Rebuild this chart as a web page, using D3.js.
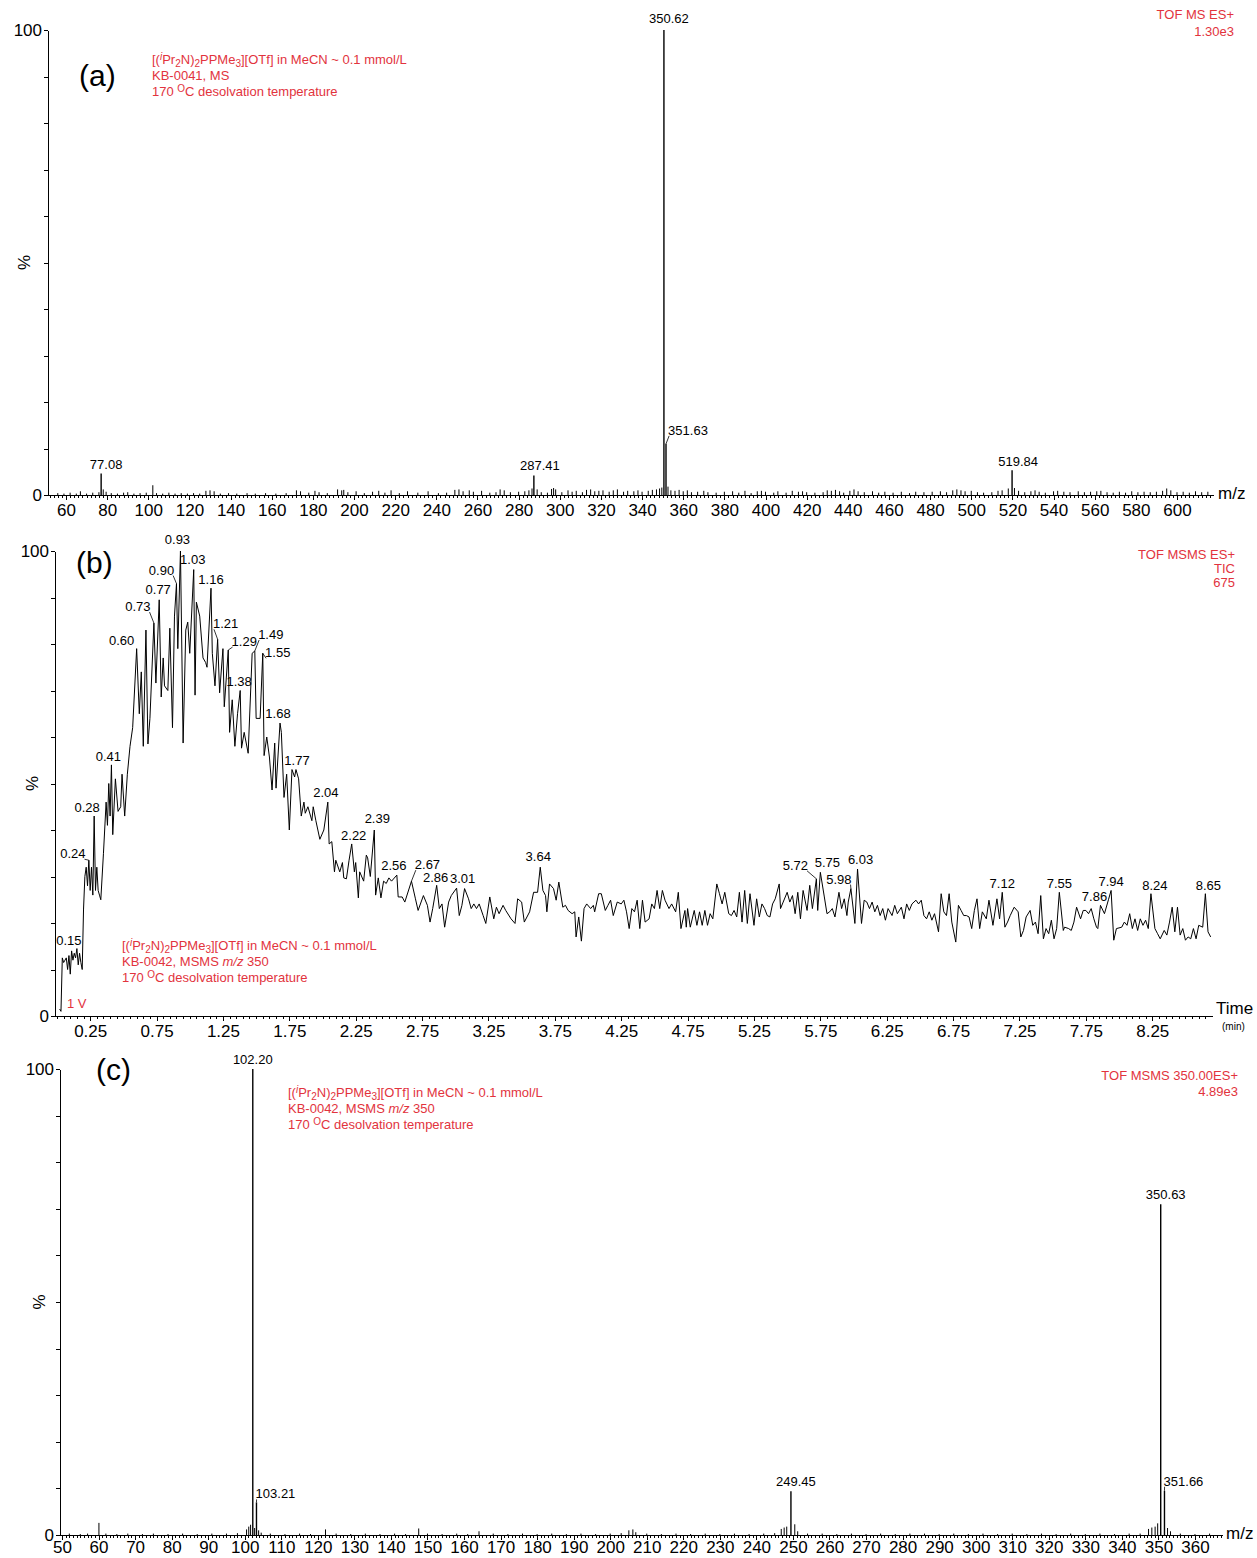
<!DOCTYPE html>
<html>
<head>
<meta charset="utf-8">
<script src="https://cdn.jsdelivr.net/npm/d3@7"></script>
<style>
body { margin: 0; background: #fff; }
svg text { font-family: "Liberation Sans", Arial, sans-serif; }
</style>
</head>
<body>
<div id="chart"></div>
<script>
// ---- (a) TOF MS ES+ spectrum: labelled peaks and small unlabelled sticks [m/z, %]
var msPeaks = [[77.08, 4.6], [287.41, 4.2], [350.62, 100], [351.63, 11], [519.84, 5.3]];
var msNoise = [[56,0.4],[59,0.3],[62,0.5],[65,0.3],[67,0.8],[70,0.3],[73,0.5],[76,0.6],[78.1,1.2],[79.5,0.7],[82,0.4],[85,0.3],[88,0.5],[90,0.6],[93,0.3],[96,0.4],[99,0.5],[102.2,2.1],[104,0.4],[107,0.3],[110,0.5],[113,0.3],[116,0.4],[119,0.3],[122,0.4],[125,0.3],[128,0.9],[130,1.0],[132,0.8],[135,0.3],[139,0.4],[143,0.3],[148,0.4],[152,0.3],[157,0.4],[162,0.3],[167,0.4],[172,1.0],[174,0.8],[178,0.5],[181,0.9],[183,0.6],[187,0.4],[192,1.2],[194,1.0],[195,1.1],[197,0.6],[201,0.8],[205,0.4],[209,0.7],[212,0.9],[215,0.5],[218,1.0],[222,0.4],[226,0.8],[231,0.5],[236,0.8],[241,0.4],[245,0.5],[249,1.1],[251,1.2],[253,0.8],[256,1.0],[258,0.7],[262,0.9],[266,0.5],[269,0.6],[271,1.2],[273,1.0],[276,0.6],[280,0.7],[283,0.8],[285,1.0],[286.5,1.4],[289,1.2],[291,0.6],[294,0.5],[296,1.3],[297,1.5],[298,1.2],[301,0.6],[304,1.0],[306,0.7],[308,0.9],[311,0.6],[313,1.1],[315,1.2],[317,0.8],[319,0.9],[321,1.0],[324,0.7],[326,1.0],[328,1.2],[331,0.7],[333,0.9],[336,0.8],[338,1.0],[340,0.7],[343,0.9],[345,1.1],[347,1.2],[348.5,1.4],[349.6,1.6],[352.6,1.8],[354,1.0],[356,0.9],[358,1.1],[360,0.8],[362,1.0],[364,0.6],[367,0.7],[370,0.9],[372,0.6],[376,0.5],[380,0.7],[384,0.8],[387,0.5],[390,0.9],[393,0.4],[396,0.8],[398,0.9],[400,0.7],[404,0.5],[406,0.8],[410,0.5],[413,0.9],[416,0.7],[418,0.8],[420,0.6],[424,0.5],[428,0.6],[430,1.0],[432,0.9],[434,1.1],[436,0.8],[438,0.5],[441,0.9],[443,1.2],[445,0.8],[448,0.6],[452,0.8],[455,0.5],[458,0.7],[462,0.5],[466,0.7],[470,0.4],[473,0.7],[477,0.6],[481,0.7],[485,0.8],[488,0.6],[491,1.0],[493,1.2],[495,1.0],[497,0.8],[500,0.9],[503,0.6],[506,0.5],[510,0.6],[513,0.9],[515,1.0],[518,1.4],[521,1.5],[523,0.9],[526,0.6],[529,0.8],[531,1.0],[533,0.7],[536,0.5],[540,0.8],[542,0.9],[545,0.7],[548,0.6],[552,0.8],[555,0.6],[558,0.7],[561,0.8],[563,0.9],[566,0.6],[569,0.5],[572,0.7],[575,0.5],[578,0.8],[581,0.6],[584,0.7],[587,0.6],[590,0.7],[593,0.9],[595,1.4],[597,1.0],[600,0.6],[603,0.7],[606,0.5],[609,0.8],[612,0.6],[615,0.7]];
var msTicks = d3.range(60, 601, 20);

// ---- (b) TIC chromatogram [time (min), %]
var ticData = [[0.02,1.5],[0.03,1.0],[0.04,12.5],[0.05,11.5],[0.06,12],[0.07,12.5],[0.08,10],[0.09,13],[0.10,9],[0.11,14],[0.12,12],[0.13,13.5],[0.14,12.5],[0.15,14.5],[0.16,11],[0.17,13.5],[0.18,11.5],[0.19,10],[0.20,23],[0.21,30],[0.22,32],[0.23,28],[0.24,33.5],[0.25,27],[0.26,32],[0.27,26],[0.28,43],[0.29,27],[0.30,32],[0.31,27],[0.32,26],[0.33,25],[0.35,35],[0.37,46],[0.38,41],[0.39,50],[0.40,43],[0.41,54],[0.42,39],[0.44,51],[0.46,44],[0.48,45],[0.49,52],[0.51,43],[0.53,52],[0.55,58],[0.57,62],[0.60,79],[0.62,65],[0.635,74],[0.65,58],[0.67,83],[0.685,58.5],[0.70,64],[0.73,84.5],[0.745,71.6],[0.77,89.5],[0.785,68.6],[0.80,77],[0.81,71],[0.835,70],[0.85,83.4],[0.87,62],[0.885,86],[0.90,93],[0.91,79],[0.93,100],[0.95,58.7],[0.97,83],[0.985,84.7],[1.00,78],[1.03,96],[1.04,69],[1.05,89],[1.075,86],[1.10,77],[1.12,76],[1.13,75],[1.16,92],[1.17,78],[1.19,71],[1.21,81],[1.225,69.5],[1.25,79],[1.26,66.5],[1.29,78.7],[1.30,61],[1.32,68],[1.34,58],[1.36,65],[1.38,70],[1.39,57.6],[1.41,61],[1.44,56.5],[1.47,78],[1.49,78.5],[1.50,64],[1.53,64],[1.55,78],[1.56,56],[1.58,60],[1.60,55.7],[1.62,48.6],[1.64,58.7],[1.65,49],[1.68,63],[1.69,61],[1.71,47],[1.73,52],[1.75,40],[1.77,53],[1.79,51.4],[1.80,53],[1.82,51],[1.84,43],[1.86,46],[1.87,43.6],[1.89,45],[1.92,42],[1.93,45],[1.95,42],[1.98,38],[2.01,40],[2.04,46],[2.05,37],[2.07,37.5],[2.09,31],[2.10,33.5],[2.13,31],[2.15,33],[2.16,29.7],[2.18,29.5],[2.20,33.5],[2.22,37],[2.24,31],[2.25,33],[2.27,25.4],[2.28,31],[2.31,29],[2.33,34.6],[2.34,34],[2.36,30],[2.39,40],[2.40,26],[2.42,29.7],[2.44,25.4],[2.46,29],[2.48,28.5],[2.50,29.7],[2.52,29],[2.56,30.3],[2.57,25.6],[2.60,25.6],[2.62,24.5],[2.67,29],[2.70,25.2],[2.72,22.7],[2.76,25.9],[2.79,23.8],[2.81,20.2],[2.83,23.1],[2.86,28.1],[2.88,23.1],[2.90,24.1],[2.92,19.1],[2.95,24.5],[2.97,25.9],[3.01,27.5],[3.03,21.6],[3.05,23.8],[3.07,27.4],[3.10,25.2],[3.12,23.1],[3.14,24.1],[3.16,23.1],[3.18,24.1],[3.21,21.6],[3.23,19.9],[3.26,25.6],[3.29,20.9],[3.31,23.4],[3.33,22.0],[3.36,23.8],[3.38,22.7],[3.42,20.9],[3.45,19.9],[3.47,25.2],[3.50,24.5],[3.52,20.2],[3.56,22.4],[3.59,26.6],[3.62,26.6],[3.64,32.0],[3.66,27.0],[3.68,25.9],[3.69,22.4],[3.71,28.4],[3.74,27.4],[3.76,24.9],[3.78,28.8],[3.81,23.4],[3.83,23.8],[3.85,22.7],[3.88,22.0],[3.90,22.4],[3.91,17.0],[3.93,21.3],[3.95,16.1],[3.97,23.1],[3.99,24.1],[4.02,23.1],[4.04,23.8],[4.05,22.4],[4.08,26.3],[4.10,26.3],[4.13,22.7],[4.15,23.8],[4.17,24.9],[4.19,21.6],[4.22,24.5],[4.25,24.1],[4.27,24.9],[4.29,22.4],[4.31,18.8],[4.33,23.1],[4.35,22.4],[4.37,24.9],[4.39,18.8],[4.41,24.9],[4.43,20.2],[4.46,20.9],[4.48,24.1],[4.50,23.1],[4.52,27.0],[4.54,23.1],[4.56,27.0],[4.58,24.9],[4.61,23.1],[4.63,24.1],[4.66,22.4],[4.68,26.6],[4.70,18.8],[4.73,22.7],[4.74,19.1],[4.75,23.1],[4.77,19.1],[4.80,22.7],[4.82,19.5],[4.84,22.4],[4.86,19.5],[4.88,22.7],[4.90,19.5],[4.92,22.0],[4.94,20.9],[4.97,28.4],[4.99,26.3],[5.01,24.1],[5.03,26.6],[5.06,22.0],[5.08,21.6],[5.10,22.7],[5.12,21.3],[5.14,26.6],[5.16,20.2],[5.18,27.0],[5.20,19.9],[5.22,26.3],[5.25,19.5],[5.27,25.2],[5.29,21.3],[5.31,24.1],[5.33,23.1],[5.35,21.6],[5.37,21.3],[5.39,24.1],[5.41,25.2],[5.44,28.4],[5.45,23.1],[5.47,24.5],[5.50,26.6],[5.52,24.5],[5.54,25.9],[5.56,22.0],[5.58,26.6],[5.60,20.9],[5.62,27.0],[5.65,22.7],[5.67,28.1],[5.69,23.1],[5.72,29.5],[5.73,22.7],[5.75,30.9],[5.78,25.6],[5.80,22.0],[5.82,22.4],[5.84,23.1],[5.86,21.3],[5.89,26.6],[5.91,23.1],[5.93,25.2],[5.95,21.6],[5.96,24.5],[5.98,27.4],[6.01,19.9],[6.03,31.6],[6.06,19.9],[6.08,24.9],[6.10,24.5],[6.12,23.1],[6.14,24.5],[6.16,22.4],[6.18,23.8],[6.20,21.6],[6.22,23.1],[6.24,20.6],[6.26,23.1],[6.29,21.6],[6.31,23.8],[6.33,22.0],[6.36,23.4],[6.38,20.9],[6.40,24.1],[6.42,22.7],[6.44,24.1],[6.47,24.9],[6.49,24.1],[6.51,24.9],[6.53,21.6],[6.55,20.9],[6.57,22.4],[6.59,20.6],[6.61,22.0],[6.64,18.1],[6.66,26.3],[6.68,22.4],[6.70,21.6],[6.72,26.3],[6.74,20.2],[6.77,15.9],[6.79,23.8],[6.81,22.7],[6.83,21.6],[6.85,21.6],[6.87,21.3],[6.89,18.8],[6.91,22.7],[6.93,25.2],[6.95,18.8],[6.97,22.4],[7.00,20.9],[7.02,24.9],[7.05,19.5],[7.08,25.2],[7.10,20.9],[7.12,26.6],[7.14,19.1],[7.16,20.2],[7.18,21.6],[7.21,23.4],[7.24,22.4],[7.26,17.0],[7.28,18.4],[7.30,21.3],[7.33,22.7],[7.35,19.5],[7.37,20.2],[7.39,17.7],[7.41,25.9],[7.43,16.6],[7.45,18.8],[7.47,17.7],[7.49,20.6],[7.51,16.6],[7.53,18.8],[7.55,26.6],[7.58,18.4],[7.59,19.1],[7.62,18.8],[7.64,18.4],[7.66,20.2],[7.68,23.4],[7.71,20.9],[7.73,22.7],[7.75,22.7],[7.77,22.0],[7.79,23.1],[7.81,20.9],[7.83,19.1],[7.84,18.8],[7.86,23.8],[7.89,22.0],[7.92,25.0],[7.94,27.0],[7.96,16.3],[7.98,18.8],[8.02,19.1],[8.04,20.2],[8.06,19.5],[8.08,22.0],[8.10,18.8],[8.12,20.9],[8.14,18.4],[8.16,20.9],[8.18,19.5],[8.20,20.6],[8.22,18.8],[8.24,26.3],[8.27,18.8],[8.29,17.7],[8.31,16.6],[8.34,18.4],[8.36,17.4],[8.38,20.2],[8.40,23.4],[8.42,18.1],[8.44,23.4],[8.46,17.4],[8.48,18.8],[8.50,16.3],[8.52,17.0],[8.54,16.6],[8.56,18.8],[8.58,16.6],[8.60,19.5],[8.63,19.1],[8.65,26.3],[8.67,18.1],[8.69,17.0]];
var ticLabels = [0.15,0.24,0.28,0.41,0.60,0.73,0.77,0.90,0.93,1.03,1.16,1.21,1.29,1.38,1.49,1.55,1.68,1.77,2.04,2.22,2.39,2.56,2.67,2.86,3.01,3.64,5.72,5.75,5.98,6.03,7.12,7.55,7.86,7.94,8.24,8.65];
var ticTicks = d3.range(0, 17).map(function(i) { return 0.25 + i * 0.5; });

// ---- (c) TOF MSMS 350.00ES+ spectrum [m/z, %]
var msmsPeaks = [[102.20, 100], [103.21, 7], [249.45, 9.4], [350.63, 71], [351.66, 9.5]];
var msmsNoise = [[52,0.3],[55,0.2],[57,0.3],[60.1,2.6],[62,0.3],[65,0.2],[68,0.3],[72,0.2],[75,0.3],[79,0.2],[83,0.3],[87,0.2],[91,0.3],[95,0.3],[98,0.4],[100.5,1.2],[101.1,1.8],[101.6,2.2],[102.7,1.5],[103.8,1.0],[104.5,0.5],[107,0.3],[111,0.2],[115,0.3],[118,0.2],[122.1,1.2],[125,0.3],[129,0.2],[133,0.3],[137,0.2],[141,0.3],[144,0.2],[147.6,1.4],[150,0.3],[154,0.2],[158,0.3],[161,0.2],[164.1,0.8],[168,0.3],[172,0.2],[176,0.3],[180,0.2],[184,0.3],[188,0.2],[192,0.3],[196,0.2],[200,0.3],[203,0.4],[205.1,1.0],[206.2,1.2],[207,0.6],[210,0.3],[214,0.2],[218,0.3],[222,0.2],[226,0.3],[230,0.2],[234,0.3],[238,0.2],[242,0.3],[245,0.4],[246.8,1.3],[247.6,1.6],[248.3,1.8],[250.5,2.3],[251.3,0.8],[254,0.3],[258,0.3],[262,0.2],[266,0.3],[270,0.2],[274,0.3],[278,0.2],[282,0.3],[286,0.3],[290,0.2],[294,0.3],[298,0.2],[302,0.3],[306,0.2],[310,0.3],[314,0.2],[318,0.3],[322,0.2],[326,0.3],[330,0.2],[334,0.3],[338,0.2],[342,0.3],[345,0.3],[347.3,1.3],[348.2,1.6],[349.1,1.8],[349.8,2.5],[352.5,1.5],[353.3,0.8],[356,0.3],[360,0.2],[364,0.3]];
var msmsTicks = d3.range(50, 361, 10);

// label nudges in px [dx, dy, leader]
var nudgeA = {"77.08": [5, 0], "287.41": [6, 0], "350.62": [5, -2], "351.63": [22, -4, 1], "519.84": [6, 1]};
var nudgeB = {"0.15": [-8, 0], "0.24": [-16, 2, 1], "0.28": [-7, 0], "0.41": [-3, 0], "0.60": [-15, 0],
  "0.73": [-16, -8, 1], "0.77": [-1, -2], "0.90": [-15, -5, 1], "0.93": [-3, -3], "1.03": [-1, -2],
  "1.21": [8, -7, 1], "1.29": [16, 0, 1], "1.38": [-1, -1], "1.49": [16, -8, 1], "1.55": [15, 8, 1],
  "1.68": [-2, -1], "1.77": [5, -1], "2.04": [-2, -1], "2.22": [2, 0], "2.39": [3, -3], "2.56": [-3, -1],
  "2.67": [16, -8, 1], "2.86": [-1, 1], "3.01": [6, -1], "3.64": [-2, -2], "5.72": [-21, -5, 1],
  "5.75": [7, -1], "5.98": [-12, -1, 1], "6.03": [3, -1], "7.86": [-6, 0], "8.24": [4, 0], "8.65": [3, 0]};
var nudgeC = {"103.21": [19, 1, 1], "249.45": [5, 0], "350.63": [5, 0], "351.66": [19, 0, 1]};

var W = 1257, H = 1558;
var red = "#e2333d";

var svg = d3.select("#chart").append("svg")
    .attr("width", W)
    .attr("height", H);

// axes frame: x bottom with major+minor ticks, y left 0..100 with ticks every 10
function frame(g, x, y, major, minor, fmt, pctX, pad) {
  var base = y(0);
  var gx = g.append("g")
      .attr("transform", "translate(0," + base + ")")
      .call(d3.axisBottom(x).tickValues(major).tickSize(5).tickSizeOuter(0).tickPadding(pad).tickFormat(fmt));
  gx.attr("font-size", 17).attr("font-family", null);
  g.append("g")
      .attr("transform", "translate(0," + base + ")")
      .call(d3.axisBottom(x).tickValues(minor).tickSize(3).tickFormat(""))
      .select(".domain").remove();
  var gy = g.append("g")
      .attr("transform", "translate(" + x.range()[0] + ",0)")
      .call(d3.axisLeft(y).tickValues(d3.range(0, 101, 10)).tickSize(4).tickSizeOuter(0).tickPadding(2)
        .tickFormat(function(d) { return (d === 0 || d === 100) ? d : ""; }));
  gy.attr("font-size", 17).attr("font-family", null);
  g.selectAll(".domain, .tick line").attr("stroke", "#000").attr("shape-rendering", "crispEdges");
  g.append("text")
      .attr("transform", "translate(" + pctX + "," + y(50) + ") rotate(-90)")
      .attr("text-anchor", "middle")
      .attr("font-size", 17)
      .text("%");
}

function peakLabel(g, px, py, txt, nd, gap) {
  nd = nd || [0, 0];
  var lx = px + nd[0], ly = py - gap + nd[1];
  var t = g.append("text")
      .attr("x", lx).attr("y", ly)
      .attr("text-anchor", "middle")
      .attr("font-size", 13)
      .text(txt);
  if (nd[2]) {
    var w = t.node().getComputedTextLength();
    var ex = nd[0] > 0 ? lx - w / 2 + 1 : lx + w / 2 - 1;
    g.append("line")
        .attr("x1", px).attr("y1", py)
        .attr("x2", ex).attr("y2", ly + 1)
        .attr("stroke", "#000").attr("stroke-width", 0.8);
  }
}

// red annotation lines with sub/superscripts
function richLine(g, x, y, parts, anchor) {
  var t = g.append("text")
      .attr("x", x).attr("y", y)
      .attr("fill", red)
      .attr("font-size", 13)
      .attr("text-anchor", anchor || "start");
  var shift = 0;
  parts.forEach(function(p) {
    var k = p[1] || "";
    var target = k.indexOf("sup") >= 0 ? -4 : (k.indexOf("sub") >= 0 ? 3 : 0);
    var ts = t.append("tspan").attr("dy", target - shift).text(p[0]);
    shift = target;
    if (target !== 0) ts.attr("font-size", 10);
    if (k.indexOf("it") >= 0) ts.attr("font-style", "italic");
  });
  if (shift !== 0) t.append("tspan").attr("dy", -shift).text("");
}

var saltLine = [["[("], ["i", "itsup"], ["Pr"], ["2", "sub"], ["N)"], ["2", "sub"], ["PPMe"], ["3", "sub"], ["][OTf] in MeCN ~ 0.1 mmol/L"]];
var tempLine = [["170 "], ["O", "sup"], ["C desolvation temperature"]];
var msmsLine = [["KB-0042, MSMS "], ["m/z", "it"], [" 350"]];

function note(g, x, y, lines) {
  lines.forEach(function(l, i) { richLine(g, x, y + i * 16, l); });
}

function rightNote(g, x, y, lines, step) {
  lines.forEach(function(l, i) {
    g.append("text").attr("x", x).attr("y", y + i * step)
        .attr("text-anchor", "end").attr("fill", red).attr("font-size", 13).text(l);
  });
}

function sticks(g, x, y, data, w) {
  g.append("g").selectAll("line")
      .data(data)
      .enter().append("line")
      .attr("x1", function(d) { return x(d[0]); })
      .attr("x2", function(d) { return x(d[0]); })
      .attr("y1", y(0))
      .attr("y2", function(d) { return y(d[1]); })
      .attr("stroke", "#000")
      .attr("stroke-width", w);
}

// ================= (a)
var xa = d3.scaleLinear().domain([51.25, 617.5]).range([48, 1213]);
var ya = d3.scaleLinear().domain([0, 100]).range([495, 30]);
var ga = svg.append("g");
frame(ga, xa, ya, msTicks, d3.range(52, 617, 2), d3.format("d"), 30, 4);
sticks(ga, xa, ya, msNoise, 1);
sticks(ga, xa, ya, msPeaks, 1.4);
msPeaks.forEach(function(d) {
  var s = d[0].toFixed(2);
  peakLabel(ga, xa(d[0]), ya(d[1]), s, nudgeA[s], 5);
});
ga.append("text").attr("x", 1218).attr("y", 499).attr("font-size", 17).text("m/z");
ga.append("text").attr("x", 79).attr("y", 86).attr("font-size", 30).text("(a)");
note(ga, 152, 64, [saltLine, [["KB-0041, MS"]], tempLine]);
rightNote(ga, 1234, 19, ["TOF MS ES+", "1.30e3"], 17);

// ================= (b)
var xb = d3.scaleLinear().domain([-0.015, 8.70]).range([55, 1212]);
var yb = d3.scaleLinear().domain([0, 100]).range([1016, 551]);
var gb = svg.append("g");
frame(gb, xb, yb, ticTicks, d3.range(0, 174).map(function(i) { return i * 0.05; }), d3.format(".2f"), 38, 4);
gb.append("path")
    .datum(ticData)
    .attr("fill", "none")
    .attr("stroke", "#000")
    .attr("stroke-width", 1)
    .attr("stroke-linejoin", "miter")
    .attr("d", d3.line().x(function(d) { return xb(d[0]); }).y(function(d) { return yb(d[1]); }));
ticLabels.forEach(function(t) {
  var p = d3.least(ticData, function(d) { return Math.abs(d[0] - t); });
  var s = t.toFixed(2);
  peakLabel(gb, xb(p[0]), yb(p[1]), s, nudgeB[s], 4);
});
gb.append("text").attr("x", 1216).attr("y", 1014).attr("font-size", 17).text("Time");
gb.append("text").attr("x", 1222).attr("y", 1030).attr("font-size", 10).text("(min)");
gb.append("text").attr("x", 76).attr("y", 573).attr("font-size", 30).text("(b)");
note(gb, 122, 950, [saltLine, msmsLine, tempLine]);
gb.append("text").attr("x", 67).attr("y", 1008).attr("fill", red).attr("font-size", 13).text("1 V");
rightNote(gb, 1235, 559, ["TOF MSMS ES+", "TIC", "675"], 14);

// ================= (c)
var xc = d3.scaleLinear().domain([49.45, 367.4]).range([60, 1222]);
var yc = d3.scaleLinear().domain([0, 100]).range([1535, 1069]);
var gc = svg.append("g");
frame(gc, xc, yc, msmsTicks, d3.range(50, 368, 1), d3.format("d"), 45, 1);
sticks(gc, xc, yc, msmsNoise, 1);
sticks(gc, xc, yc, msmsPeaks, 1.4);
msmsPeaks.forEach(function(d) {
  var s = d[0].toFixed(2);
  peakLabel(gc, xc(d[0]), yc(d[1]), s, nudgeC[s], 5);
});
gc.append("text").attr("x", 1226).attr("y", 1539).attr("font-size", 17).text("m/z");
gc.append("text").attr("x", 96).attr("y", 1080).attr("font-size", 30).text("(c)");
note(gc, 288, 1097, [saltLine, msmsLine, tempLine]);
rightNote(gc, 1238, 1080, ["TOF MSMS 350.00ES+", "4.89e3"], 16);
</script>
</body>
</html>
